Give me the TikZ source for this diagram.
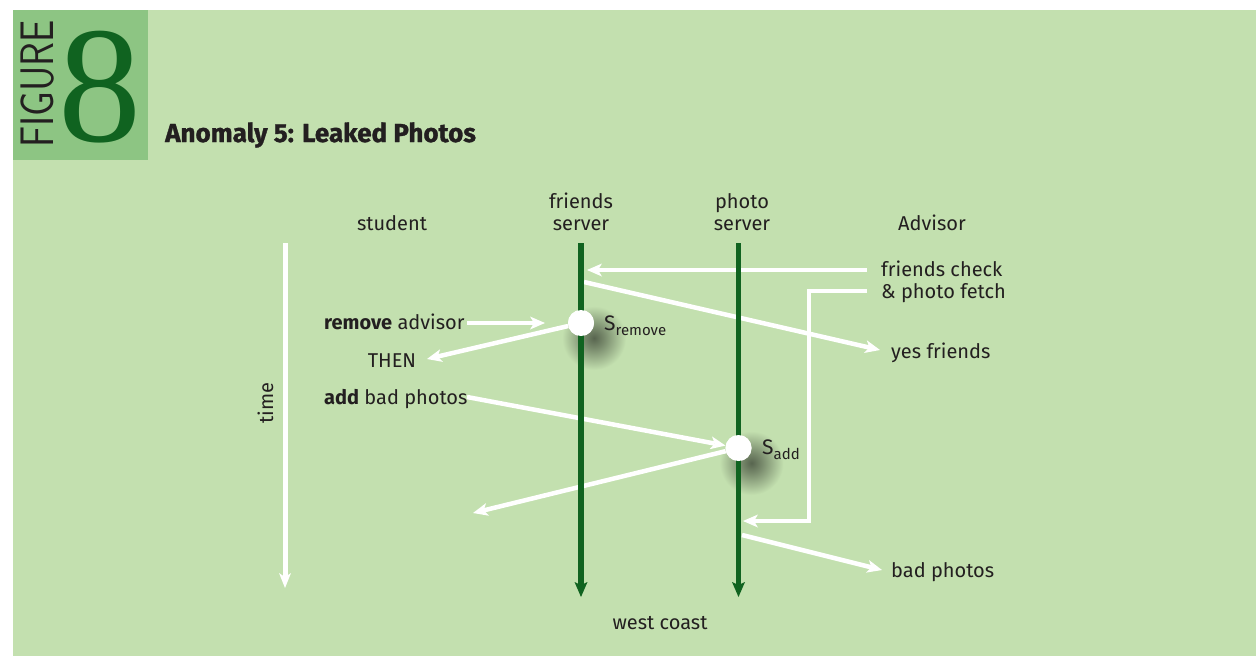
\documentclass[tikz,border=0pt]{standalone}
\usepackage{fontspec}
\setmainfont{Fira Sans}
\newfontfamily\serifeight{Liberation Serif}
\newfontfamily\titlefont[BoldFeatures={FakeBold=1.2}]{Fira Sans}
\usetikzlibrary{arrows.meta}
\definecolor{bg}{RGB}{195,224,175}
\definecolor{figbox}{RGB}{141,197,131}
\definecolor{dgreen}{RGB}{16,99,32}
\definecolor{txt}{RGB}{35,31,32}
\colorlet{shd}{bg!45!black}
\pgfdeclareradialshading{blob}{\pgfpoint{0bp}{0bp}}{color(0bp)=(shd); color(8bp)=(shd!70!bg); color(25bp)=(bg); color(50bp)=(bg)}
\tikzset{
  lbl/.style={text=txt, font=\fontsize{20}{24}\selectfont, inner sep=0pt},
  warrow/.style={draw=white, line width=4.5pt, -{Stealth[length=15pt,width=13pt,inset=4pt,line width=0pt]}},
  tline/.style={draw=dgreen, line width=5.5pt, -{Stealth[length=15pt,width=13pt,inset=3pt,line width=0pt]}},
  event/.style={circle, fill=white, minimum size=26pt, inner sep=0pt},
  evlabel/.style={text=txt, font=\fontsize{21}{24}\selectfont, inner sep=0pt, anchor=base west},
}
\begin{document}
\begin{tikzpicture}[x=1pt,y=-1pt]
\useasboundingbox (0,0) rectangle (1256,656);
\fill[white] (0,0) rectangle (1256,656);
\fill[bg] (13,10) rectangle (1256,656);
\fill[figbox] (13,10) rectangle (148,160);
% header
\node[rotate=90, anchor=base west, inner sep=0pt, text=txt, font=\sffamily\fontsize{47}{47}\selectfont] (figword) at (53,148) {\scalebox{0.84}[1]{FIGURE}};
\node[anchor=base, inner sep=0pt, text=dgreen, font=\serifeight\fontsize{166}{166}\selectfont] (fignum) at (100,141) {8};
\node[anchor=base west, inner sep=0pt, text=txt, font=\titlefont\bfseries\fontsize{26}{26}\selectfont] (title) at (165,142) {Anomaly 5: Leaked Photos};
% column labels
\node[lbl, anchor=base] (student) at (392,230) {student};
\node[lbl, anchor=base] (fs1) at (581,208) {friends};
\node[lbl, anchor=base] (fs2) at (581,230) {server};
\node[lbl, anchor=base] (ps1) at (742,208) {photo};
\node[lbl, anchor=base] (ps2) at (742,230) {server};
\node[lbl, anchor=base] (advisor) at (932,230) {Advisor};
\node[lbl, rotate=90, anchor=center] (time) at (265.5,403) {time};
% row labels
\node[lbl, anchor=base west] (chk1) at (881,276) {friends check};
\node[lbl, anchor=base west] (chk2) at (881,298) {\& photo fetch};
\node[lbl, anchor=base west] (yes) at (891,358) {yes friends};
\node[lbl, anchor=base west] (remove) at (324,329) {\textbf{remove} advisor};
\node[lbl, anchor=base] (then) at (392,367) {THEN};
\node[lbl, anchor=base west] (add) at (324,404) {\textbf{add} bad photos};
\node[lbl, anchor=base west] (badph) at (891,577) {bad photos};
\node[lbl, anchor=base] (west) at (660,629) {west coast};
% coordinates
\coordinate (tTop) at (285,243);
\coordinate (tBot) at (285,588);
\coordinate (fsTop) at (581,243);
\coordinate (fsBot) at (581,597);
\coordinate (psTop) at (738.5,243);
\coordinate (psBot) at (738.5,597);
\coordinate (chkS) at (867,270);
\coordinate (chkT) at (587,270);
\coordinate (yesS) at (584,282);
\coordinate (yesT) at (880,350);
\coordinate (remS) at (467,323);
\coordinate (remT) at (545,323);
\coordinate (thenT) at (427,359);
\coordinate (addS) at (467,397);
\coordinate (leftT) at (473,513);
\coordinate (fetS) at (867,291);
\coordinate (fetC1) at (809,291);
\coordinate (fetC2) at (809,521);
\coordinate (fetT) at (743,521);
\coordinate (badS) at (742,535);
\coordinate (badT) at (882,570);
\coordinate (srmC) at (581,323);
\coordinate (sadC) at (738.5,448);
% shadows
\shade[shading=blob] (594,338) circle (32pt);
\shade[shading=blob] (751.5,463) circle (32pt);
% time arrow
\draw[white, line width=5pt, -{Stealth[length=15pt,width=12pt,inset=4pt,line width=0pt]}] (tTop) -- (tBot);
% white messages
\node[event] (srm) at (srmC) {};
\node[event] (sad) at (sadC) {};
\draw[warrow] (chkS) -- (chkT);
\draw[warrow] (yesS) -- (yesT);
\draw[warrow] (remS) -- (remT);
\draw[warrow] (srm) -- (thenT);
\draw[warrow] (addS) -- (sad);
\draw[warrow] (sad) -- (leftT);
\draw[warrow, line join=miter] (fetS) -- (fetC1) -- (fetC2) -- (fetT);
\draw[warrow] (badS) -- (badT);
% timelines
\draw[tline] (fsTop) -- (fsBot);
\draw[tline] (psTop) -- (psBot);
% event circles on top
\node[event] (srmTop) at (srmC) {};
\node[event] (sadTop) at (sadC) {};
\node[evlabel] (srmL) at (604,330) {S\raisebox{-5pt}{\fontsize{15}{18}\selectfont remove}};
\node[evlabel] (sadL) at (762,454) {S\raisebox{-5pt}{\fontsize{15}{18}\selectfont add}};
\end{tikzpicture}
\end{document}
